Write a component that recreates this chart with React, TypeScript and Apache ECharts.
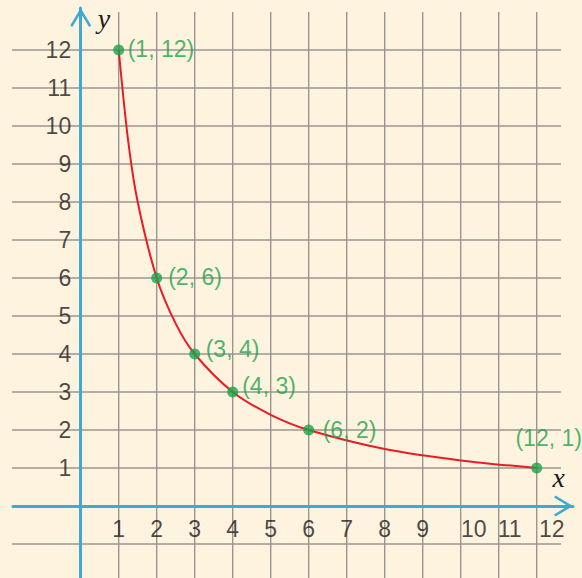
import { useEffect, useRef } from "react";
import * as echarts from "echarts";

// ---- data ----
const pointsX = [1, 2, 3, 4, 6, 12];
const pointsY = [12, 6, 4, 3, 2, 1];
const pointLabels = ["(1, 12)", "(2, 6)", "(3, 4)", "(4, 3)", "(6, 2)", "(12, 1)"];

// curve values
const curveX = [1, 1.25, 1.5, 2, 2.5, 3, 4, 5, 6, 8, 10, 12];
const curveY = [12, 9.6, 8, 6, 4.8, 4, 3, 2.4, 2, 1.5, 1.2, 1];

const xTicks = [1, 2, 3, 4, 5, 6, 7, 8, 9, 10, 11, 12];
const xTickLabels = ["1", "2", "3", "4", "5", "6", "7", "8", "9", "10", "11", "12"];
const yTicks = [1, 2, 3, 4, 5, 6, 7, 8, 9, 10, 11, 12];
const yTickLabels = ["1", "2", "3", "4", "5", "6", "7", "8", "9", "10", "11", "12"];

const hGridLines = [-1, 1, 2, 3, 4, 5, 6, 7, 8, 9, 10, 11, 12];
const vGridLines = [1, 2, 3, 4, 5, 6, 7, 8, 9, 10, 11, 12];

// ---- layout / style ----
const W = 582;
const H = 578;
const GRID_LEFT = 13;
const GRID_RIGHT = 9;
const GRID_TOP = 8;
const GRID_BOTTOM = 0;
const UNIT = 38;
const X0_PX = 80.7;
const Y0_PX = 506;
const X_MIN = (GRID_LEFT - X0_PX) / UNIT;
const X_MAX = X_MIN + (W - GRID_LEFT - GRID_RIGHT) / UNIT;
const Y_MAX = (Y0_PX - GRID_TOP) / UNIT;
const Y_MIN = Y_MAX - (H - GRID_TOP - GRID_BOTTOM) / UNIT;
const H_LINE_FROM = (12 - X0_PX) / UNIT;
const H_LINE_TO = (561 - X0_PX) / UNIT;
const V_LINE_TOP = (Y0_PX - 12) / UNIT;

const BG = "#fef3de";
const BLUE = "#3fa8d5";
const GRID_COLOR = "#9a968f";
const RED = "#e81c24";
const GREEN = "#1ba34a";
const TEXT = "#1e1a1b";
const FONT = "'Liberation Sans', Arial, sans-serif";
const SERIF = "'Liberation Serif', 'Times New Roman', serif";

const ARROW = "path://M10.5,0 L21,17.5 L18.9,19 L10.5,5 L2.1,19 L0,17.5 Z";

const pointLabelOffsets: number[][] = [
  [-1.5, -1.5],
  [1, -1.5],
  [0.5, -5],
  [-1, -6],
  [3.5, 0],
  [12, -8.5],
];
const xLabelShift: Record<number, number> = { 10: 13, 11: 11, 12: 15 };

export default function App() {
  const ref = useRef<HTMLDivElement>(null);
  useEffect(() => {
    const chart = echarts.init(ref.current!, null, { renderer: "svg" });
    const option: any = {
      animation: false,
      backgroundColor: BG,
      textStyle: { fontFamily: FONT },
      grid: { left: GRID_LEFT, right: GRID_RIGHT, top: GRID_TOP, bottom: GRID_BOTTOM },
      xAxis: {
        type: "value",
        min: X_MIN,
        max: X_MAX,
        z: 5,
        axisLine: {
          onZero: true,
          lineStyle: { color: BLUE, width: 3 },
          symbol: ["none", ARROW],
          symbolSize: [21, 19],
          symbolOffset: [0, -9.5],
        },
        axisTick: { show: false },
        axisLabel: { show: false },
        splitLine: { show: false },
      },
      yAxis: {
        type: "value",
        min: Y_MIN,
        max: Y_MAX,
        z: 5,
        axisLine: {
          onZero: true,
          lineStyle: { color: BLUE, width: 3 },
          symbol: ["none", ARROW],
          symbolSize: [21, 19],
          symbolOffset: [0, -9.5],
        },
        axisTick: { show: false },
        axisLabel: { show: false },
        splitLine: { show: false },
      },
      graphic: [
        {
          type: "text",
          x: 104,
          y: 18,
          style: {
            text: "y",
            font: `italic 28px ${SERIF}`,
            fill: TEXT,
            align: "center",
            verticalAlign: "middle",
          },
        },
        {
          type: "text",
          x: 558.7,
          y: 477.5,
          style: {
            text: "x",
            font: `italic 28px ${SERIF}`,
            fill: TEXT,
            align: "center",
            verticalAlign: "middle",
          },
        },
      ],
      series: [
        {
          type: "custom",
          silent: true,
          z: 1,
          data: hGridLines.map((v) => [0, v]),
          renderItem: (_p: any, api: any) => {
            const a = api.coord([H_LINE_FROM, api.value(1)]);
            const b = api.coord([H_LINE_TO, api.value(1)]);
            return {
              type: "line",
              shape: { x1: a[0], y1: a[1], x2: b[0], y2: b[1] },
              style: { stroke: GRID_COLOR, lineWidth: 1.4 },
            };
          },
        },
        {
          type: "custom",
          silent: true,
          z: 1,
          data: vGridLines.map((v) => [v, 0]),
          renderItem: (_p: any, api: any) => {
            const a = api.coord([api.value(0), V_LINE_TOP]);
            const b = api.coord([api.value(0), Y_MIN]);
            return {
              type: "line",
              shape: { x1: a[0], y1: a[1], x2: b[0], y2: b[1] },
              style: { stroke: GRID_COLOR, lineWidth: 1.4 },
            };
          },
        },
        {
          type: "scatter",
          silent: true,
          z: 3,
          symbolSize: 1,
          itemStyle: { color: "rgba(0,0,0,0)" },
          data: xTicks.map((v, i) => ({
            value: [v, 0],
            label: { formatter: xTickLabels[i], offset: [xLabelShift[v] || 0, 0] },
          })),
          label: {
            show: true,
            position: "bottom",
            distance: 11,
            fontSize: 23,
            color: TEXT,
            fontFamily: FONT,
          },
        },
        {
          type: "scatter",
          silent: true,
          z: 3,
          symbolSize: 1,
          itemStyle: { color: "rgba(0,0,0,0)" },
          data: yTicks.map((v, i) => ({
            value: [0, v],
            label: { formatter: yTickLabels[i] },
          })),
          label: {
            show: true,
            position: "left",
            distance: 9,
            fontSize: 23,
            color: TEXT,
            fontFamily: FONT,
          },
        },
        {
          type: "line",
          silent: true,
          z: 4,
          smooth: 0.3,
          showSymbol: false,
          lineStyle: { color: RED, width: 2 },
          data: curveX.map((x, i) => [x, curveY[i]]),
        },
        {
          type: "scatter",
          silent: true,
          z: 5,
          symbolSize: 11,
          itemStyle: { color: GREEN },
          data: pointsX.map((x, i) => ({
            value: [x, pointsY[i]],
            label: {
              formatter: pointLabels[i],
              position: i === pointsX.length - 1 ? "top" : "right",
              offset: pointLabelOffsets[i],
            },
          })),
          label: {
            show: true,
            distance: 5,
            fontSize: 23,
            color: GREEN,
            fontFamily: FONT,
          },
        },
      ],
    };
    chart.setOption(option);
    return () => chart.dispose();
  }, []);
  return (
    <div
      ref={ref}
      style={{ position: "absolute", left: 0, top: 0, width: W, height: H, background: BG }}
    />
  );
}
